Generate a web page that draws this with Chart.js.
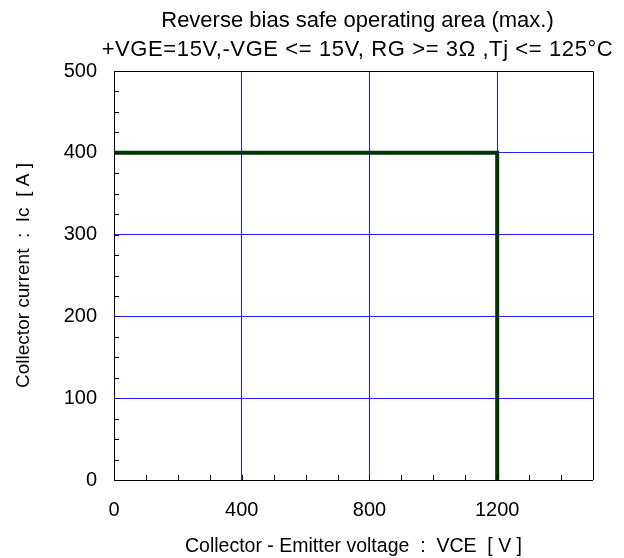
<!DOCTYPE html>
<html>
<head>
<meta charset="utf-8">
<script src="https://cdn.jsdelivr.net/npm/chart.js@4/dist/chart.umd.min.js"></script>
<style>
  html,body{margin:0;padding:0;background:#fff;}
  #wrap{width:624px;height:558px;}
</style>
</head>
<body>
<div id="wrap"><canvas id="rbsoa"></canvas></div>
<script>
// RBSOA boundary (max.)
const vce = [0, 1200, 1200];          // V
const ic  = [400, 400, 0];            // A
const xMajor = [0, 400, 800, 1200];   // labelled x ticks
const yMajor = [0, 100, 200, 300, 400, 500];
const titleLines = [
  'Reverse bias safe operating area (max.)',
  '+VGE=15V,-VGE <= 15V, RG >= 3\u03A9 ,Tj <= 125\u00B0C'
];
const xTitle = 'Collector - Emitter voltage  :  VCE  [ V ]';
const yTitle = 'Collector current  :  Ic  [ A ]';

const FONT = '"Liberation Sans", Arial, sans-serif';
const BLUE = '#1f1fff';

// title over plot centre, frame on top/right, inward minor ticks
const decor = {
  id:'decor',
  afterDraw(chart){
    const {ctx, chartArea:a, scales:{x, y}} = chart;
    ctx.save();
    ctx.strokeStyle='#000'; ctx.lineWidth=1;
    ctx.beginPath();
    ctx.moveTo(a.left, a.top+0.5); ctx.lineTo(a.right+0.5, a.top+0.5); ctx.lineTo(a.right+0.5, a.bottom);
    ctx.stroke();
    ctx.beginPath();
    x.ticks.forEach(t=>{
      if(t.value<=0 || t.value>=1500) return;
      const px=Math.round(x.getPixelForValue(t.value))+0.5;
      ctx.moveTo(px, a.bottom); ctx.lineTo(px, a.bottom-5);
    });
    y.ticks.forEach(t=>{
      if(t.value<=0 || t.value>=500) return;
      const py=Math.round(y.getPixelForValue(t.value))+0.5;
      ctx.moveTo(a.left, py); ctx.lineTo(a.left+5, py);
    });
    ctx.stroke();
    ctx.fillStyle='#000'; ctx.textAlign='center'; ctx.textBaseline='middle';
    ctx.font='22px '+FONT;
    const cx=(a.left+a.right)/2+4;
    ctx.fillText(titleLines[0], cx, 21);
    ctx.letterSpacing='0.6px';
    ctx.fillText(titleLines[1], cx, 50);
    ctx.restore();
  }
};

const isX = v => xMajor.includes(v) && v>0;
const isY = v => yMajor.includes(v) && v>0 && v<500;

new Chart(document.getElementById('rbsoa'), {
  type:'scatter',
  data:{datasets:[{
    data: vce.map((v,i)=>({x:v, y:ic[i]})),
    showLine:true,
    borderColor:'#023302',
    borderWidth:4,
    pointRadius:0,
    borderJoinStyle:'miter'
  }]},
  options:{
    responsive:true, maintainAspectRatio:false, animation:false,
    layout:{padding:{left:0, top:71, right:31, bottom:0}},
    plugins:{legend:{display:false}, tooltip:{enabled:false}},
    scales:{
      x:{
        type:'linear', min:0, max:1500,
        afterFit(s){ s.height=78; },
        afterBuildTicks(s){ s.ticks=[]; for(let v=0; v<=1500; v+=100) s.ticks.push({value:v}); },
        ticks:{autoSkip:false, maxRotation:0, minRotation:0, padding:18, color:'#000',
          font:{family:FONT, size:20},
          callback:v=> xMajor.includes(v) ? String(v) : ''},
        grid:{drawTicks:false, color:BLUE, tickColor:BLUE,
          lineWidth:c=> (c.tick && isX(c.tick.value)) ? 1 : 0},
        border:{color:'#000', width:1},
        title:{display:true, text:xTitle, color:'#000', font:{family:FONT, size:19.5}, padding:{top:0,bottom:0}}
      },
      y:{
        type:'linear', min:0, max:500,
        afterFit(s){ s.width=114; },
        afterBuildTicks(s){ s.ticks=[]; for(let v=0; v<=500; v+=25) s.ticks.push({value:v}); },
        ticks:{autoSkip:false, padding:17, color:'#000',
          font:{family:FONT, size:20},
          callback:v=> yMajor.includes(v) ? String(v) : ''},
        grid:{drawTicks:false, color:BLUE, tickColor:BLUE,
          lineWidth:c=> (c.tick && isY(c.tick.value)) ? 1 : 0},
        border:{color:'#000', width:1},
        title:{display:true, text:yTitle, color:'#000', font:{family:FONT, size:19}, padding:{top:12,bottom:0}}
      }
    }
  },
  plugins:[decor]
});
</script>
</body>
</html>
